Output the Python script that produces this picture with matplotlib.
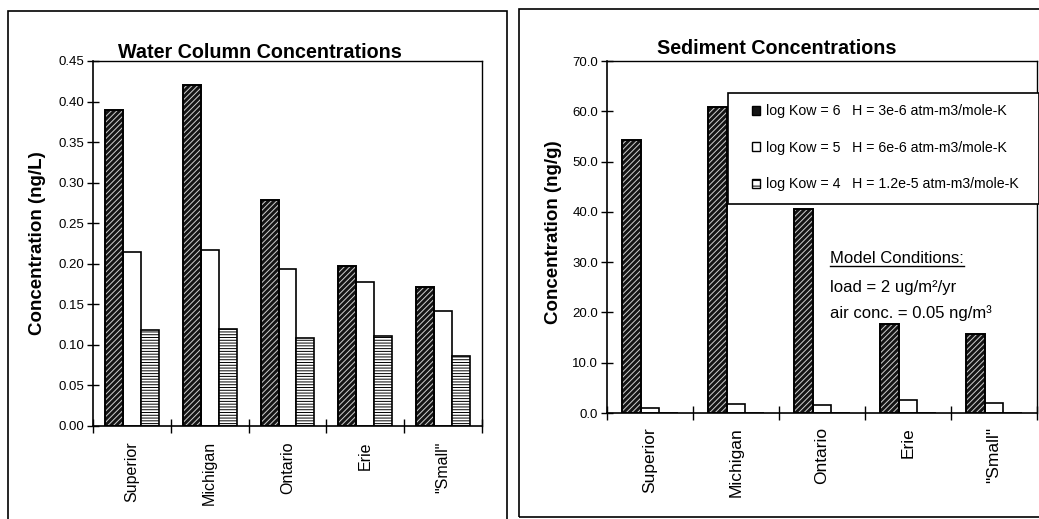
import numpy as np
import matplotlib
matplotlib.use("Agg")
import matplotlib.pyplot as plt
from matplotlib.patches import Patch, Rectangle
from matplotlib.ticker import MultipleLocator, FormatStrFormatter, FixedLocator

plt.rcParams['font.family'] = ['Liberation Sans', 'DejaVu Sans']
plt.rcParams['hatch.linewidth'] = 0.7

# ── data ──────────────────────────────────────────────────────────────────────
lakes = ["Superior", "Michigan", "Ontario", "Erie", '"Small"']
series_labels = [
    "log Kow = 6   H = 3e-6 atm-m3/mole-K",
    "log Kow = 5   H = 6e-6 atm-m3/mole-K",
    "log Kow = 4   H = 1.2e-5 atm-m3/mole-K",
]

water_kow6 = [0.389, 0.421, 0.279, 0.197, 0.171]
water_kow5 = [0.214, 0.217, 0.193, 0.178, 0.142]
water_kow4 = [0.118, 0.119, 0.108, 0.111, 0.086]

sed_kow6 = [54.2, 60.8, 40.5, 17.7, 15.7]
sed_kow5 = [1.05, 1.85, 1.5, 2.6, 2.0]
sed_kow4 = [0.03, 0.03, 0.03, 0.03, 0.03]

W, H = 1039, 519


def fx(px):
    return px / W


def fy(py):
    return 1 - py / H


def draw_bars(ax, x, vals, kind, width):
    if kind == 0:
        ax.bar(x, vals, width, facecolor="#141414", edgecolor="#d0d0d0",
               hatch="//////", linewidth=0, zorder=2)
        ax.bar(x, vals, width, fill=False, edgecolor="black", linewidth=1.4, zorder=3)
    elif kind == 1:
        ax.bar(x, vals, width, facecolor="white", edgecolor="black",
               linewidth=1.2, zorder=2)
    else:
        ax.bar(x, vals, width, facecolor="white", edgecolor="black",
               hatch="------", linewidth=1.2, zorder=2)


def style_axes(ax, ymax, ystep, fmt, xpad, xsize):
    n = len(lakes)
    ax.set_xlim(-0.5, n - 0.5)
    ax.set_ylim(0, ymax)
    ax.yaxis.set_major_locator(MultipleLocator(ystep))
    ax.yaxis.set_major_formatter(FormatStrFormatter(fmt))
    ax.xaxis.set_major_locator(FixedLocator(np.arange(n + 1) - 0.5))
    ax.xaxis.set_major_formatter(plt.NullFormatter())
    ax.xaxis.set_minor_locator(FixedLocator(np.arange(n)))
    ax.set_xticklabels(lakes, minor=True, rotation=90, fontsize=xsize)
    ax.tick_params(axis="x", which="major", direction="inout", length=10, width=1)
    ax.tick_params(axis="x", which="minor", length=0, pad=xpad)
    ax.tick_params(axis="y", direction="inout", length=9, width=1, pad=2,
                   labelsize=9.5)
    for s in ax.spines.values():
        s.set_linewidth(1.0)
    ax.spines["left"].set_linewidth(1.2)
    ax.spines["bottom"].set_linewidth(1.2)


fig = plt.figure(figsize=(W / 100, H / 100), dpi=100)

# panel frames
fig.patches.append(Rectangle((fx(8), -0.02), fx(507) - fx(8), fy(11) + 0.02,
                             transform=fig.transFigure, fill=False,
                             edgecolor="black", linewidth=1.2))
fig.patches.append(Rectangle((fx(519), fy(517)), 1.02 - fx(519), fy(9) - fy(517),
                             transform=fig.transFigure, fill=False,
                             edgecolor="black", linewidth=1.2))

# ── water column ──────────────────────────────────────────────────────────────
ax1 = fig.add_axes([fx(93), fy(426), fx(482) - fx(93), fy(61) - fy(426)])
x = np.arange(len(lakes))
w1 = 0.23
for k, vals in enumerate([water_kow6, water_kow5, water_kow4]):
    draw_bars(ax1, x + (k - 1) * w1, vals, k, w1)
style_axes(ax1, 0.45, 0.05, "%.2f", 11, 11.5)
fig.text(fx(118), fy(58), "Water Column Concentrations", fontsize=14.2,
         fontweight="bold", ha="left", va="baseline")
fig.text(fx(38), fy(243), "Concentration (ng/L)", fontsize=13.5,
         fontweight="bold", rotation=90, ha="center", va="center")

# ── sediment ──────────────────────────────────────────────────────────────────
ax2 = fig.add_axes([fx(607), fy(413), fx(1037) - fx(607), fy(61) - fy(413)])
w2 = 0.22
for k, vals in enumerate([sed_kow6, sed_kow5, sed_kow4]):
    draw_bars(ax2, x + (k - 1) * w2, vals, k, w2)
style_axes(ax2, 70, 10, "%.1f", 10, 12.5)
fig.text(fx(657), fy(54), "Sediment Concentrations", fontsize=14.2,
         fontweight="bold", ha="left", va="baseline")
fig.text(fx(553), fy(232), "Concentration (ng/g)", fontsize=13.5,
         fontweight="bold", rotation=90, ha="center", va="center")

# legend box (drawn by hand so it can reach the panel edge like the original)
ax2.add_patch(Rectangle((fx(728), fy(204)), fx(1039) - fx(728), fy(93) - fy(204),
                        transform=fig.transFigure, facecolor="white",
                        edgecolor="black", linewidth=1.2, clip_on=False, zorder=4))
handles = [
    Patch(facecolor="#141414", edgecolor="black", linewidth=1),
    Patch(facecolor="white", edgecolor="black", linewidth=1),
    Patch(facecolor="white", edgecolor="black", hatch="---", linewidth=1),
]
leg = ax2.legend(handles, series_labels, loc="upper left",
                 bbox_to_anchor=(fx(752), fy(104)), bbox_transform=fig.transFigure,
                 fontsize=10.2, frameon=False, handlelength=0.55, handleheight=0.6,
                 handletextpad=0.45, labelspacing=1.6, borderpad=0,
                 borderaxespad=0)
leg.set_zorder(5)

t = fig.text(fx(830), fy(263), "Model Conditions:", fontsize=12,
             ha="left", va="baseline")
fig.text(fx(830), fy(292), "load = 2 ug/m²/yr", fontsize=12,
         ha="left", va="baseline")
fig.text(fx(830), fy(318), "air conc. = 0.05 ng/m³", fontsize=12,
         ha="left", va="baseline")

fig.canvas.draw()
bb = t.get_window_extent().transformed(fig.transFigure.inverted())
fig.add_artist(plt.Line2D([bb.x0, bb.x1], [fy(266), fy(266)],
                          transform=fig.transFigure, color="black", linewidth=1))

fig.savefig("out.png", dpi=100)
